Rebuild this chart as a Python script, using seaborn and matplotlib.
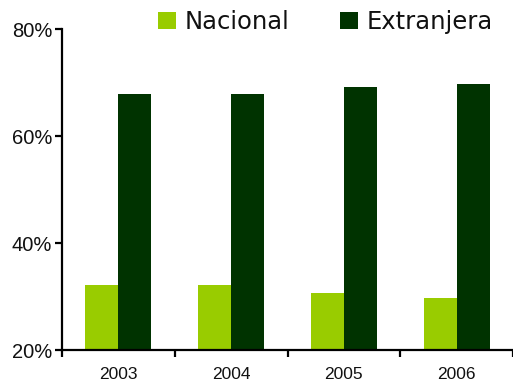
import matplotlib
matplotlib.use("Agg")
import matplotlib.pyplot as plt
import matplotlib.ticker as mticker
from matplotlib.patches import Patch
import seaborn as sns
import pandas as pd

years = ["2003", "2004", "2005", "2006"]
nacional = [32.1, 32.1, 30.7, 29.8]
extranjera = [67.9, 67.9, 69.2, 69.8]
series_names = ["Nacional", "Extranjera"]
colors = ["#99CC00", "#003300"]

df = pd.DataFrame({
    "year": years * 2,
    "value": nacional + extranjera,
    "serie": [series_names[0]] * len(years) + [series_names[1]] * len(years),
})

sns.set_style("white")
plt.rcParams["font.family"] = ["Liberation Sans", "DejaVu Sans"]

fig = plt.figure(figsize=(5.13, 3.84), dpi=100)
ax = fig.add_axes([62 / 513, 34 / 384, 451 / 513, 320.5 / 384])

sns.barplot(data=df, x="year", y="value", hue="serie", palette=colors,
            width=0.585, gap=0, saturation=1, ax=ax, legend=False,
            edgecolor="none", linewidth=0)

ax.set_ylim(20, 80)
ax.set_xlim(-0.5, 3.5)
ax.set_yticks([20, 40, 60, 80])
ax.yaxis.set_major_formatter(mticker.FuncFormatter(lambda v, p: f"{v:.0f}%"))
ax.set_xlabel("")
ax.set_ylabel("")

for s in ["top", "right"]:
    ax.spines[s].set_visible(False)
for s in ["left", "bottom"]:
    ax.spines[s].set_color("black")
    ax.spines[s].set_linewidth(1.6)

ax.tick_params(axis="y", which="major", direction="out", length=5, width=1.6,
               color="black", labelsize=14.5, pad=2, left=True, labelcolor="#111111")
ax.tick_params(axis="x", which="major", length=0, labelsize=12.5, pad=12.5, labelcolor="#111111")
ax.set_xticks([-0.5, 0.5, 1.5, 2.5, 3.5], minor=True)
ax.tick_params(axis="x", which="minor", direction="out", length=5, width=1.6,
               color="black", bottom=True)

handles = [Patch(facecolor=c, edgecolor="none", label=n) for c, n in zip(colors, series_names)]
fig.legend(handles=handles, loc="center", bbox_to_anchor=(0.6345, 0.943), ncol=2,
           frameon=False, prop={"family": "DejaVu Sans", "size": 17.5}, handlelength=0.74,
           handleheight=0.74, handletextpad=0.36, columnspacing=2.1, borderaxespad=0,
           labelcolor="#111111")

fig.savefig("out.png", dpi=100)
